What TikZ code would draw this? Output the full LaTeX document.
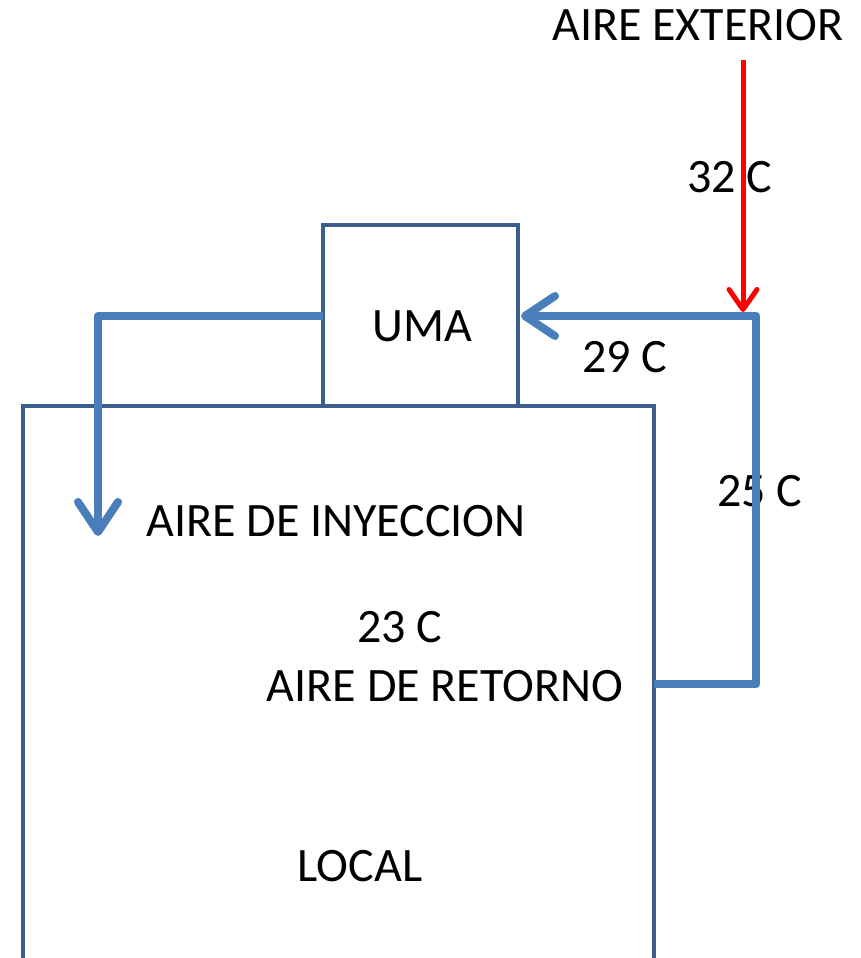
\documentclass[tikz,border=0pt]{standalone}
\usepackage{fontspec}
\setmainfont{Carlito}
\usetikzlibrary{arrows.meta}
\definecolor{boxblue}{HTML}{3B5E8C}
\definecolor{flowblue}{HTML}{4A7EBB}
\definecolor{airred}{HTML}{FF0000}
\begin{document}
\begin{tikzpicture}[x=1pt,y=-1pt,
  boxline/.style={draw=boxblue, line width=4.5pt, inner sep=0pt, outer sep=0pt},
  flow/.style={draw=flowblue, line width=8pt, line join=round,
    -{Straight Barb[length=30pt, width=40pt, round, line width=8pt]}},
  redflow/.style={draw=airred, line width=5pt,
    -{Straight Barb[length=20pt, width=28pt, round, line width=5pt]}},
  lbl/.style={font=\fontsize{48}{50}\selectfont, inner sep=0pt, anchor=base}]
\useasboundingbox (0,0) rectangle (861,958);
\fill[white] (0,0) rectangle (861,958);
\begin{scope}
\clip (0,0) rectangle (861,958);
\node[boxline, minimum width=631pt, minimum height=600pt, anchor=north west] (local) at (23,406) {};
\end{scope}
\node[boxline, minimum width=195pt, minimum height=181pt] (uma) at (420.5,315.5) {};
% texts
\node[lbl] (umatxt) at (422,341) {UMA};
\node[lbl] (ext) at (698,41) {AIRE EXTERIOR};
\node[lbl] (t32) at (730,192) {32 C};
\node[lbl] (t29) at (625,372) {29 C};
\node[lbl] (t25) at (760,506) {25 C};
\node[lbl] (iny) at (336,536) {AIRE DE INYECCION};
\node[lbl] (t23) at (400,642) {23 C};
\node[lbl] (ret) at (445,701) {AIRE DE RETORNO};
\node[lbl] (loc) at (360,881) {LOCAL};
% connectors
\coordinate (retstart) at (654,684);
\coordinate (retcorner) at (756,684);
\coordinate (mix) at (756,316);
\coordinate (umain) at (521,316);
\coordinate (umaout) at (323,316);
\coordinate (supcorner) at (98,316);
\coordinate (supend) at (98,536);
\coordinate (extstart) at (743,60);
\coordinate (extend) at (743,312);
\draw[flow] (retstart) -- (retcorner) -- (mix) -- (umain);
\draw[flow] (umaout) -- (supcorner) -- (supend);
\draw[redflow] (extstart) -- (extend);
\end{tikzpicture}
\end{document}
